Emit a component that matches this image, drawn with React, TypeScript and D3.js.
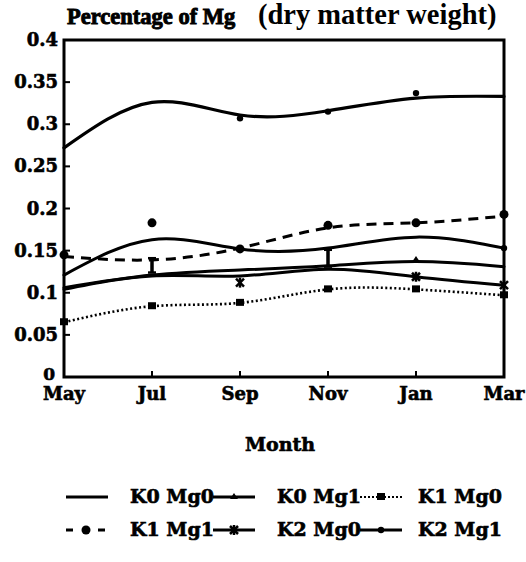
import * as d3 from 'd3'

const months = ['May', 'Jul', 'Sep', 'Nov', 'Jan', 'Mar']
const yTickValues = [0, 0.05, 0.1, 0.15, 0.2, 0.25, 0.3, 0.35, 0.4]
const yTickLabels = ['0', '0.05', '0.1', '0.15', '0.2', '0.25', '0.3', '0.35', '0.4']

// fitted curves (smooth lines)
const k0mg0Fit = [0.121, 0.163, 0.152, 0.153, 0.166, 0.153]
const k0mg1Fit = [0.106, 0.121, 0.127, 0.132, 0.137, 0.131]
const k1mg0Fit = [0.065, 0.084, 0.088, 0.104, 0.104, 0.097]
const k1mg1Fit = [0.143, 0.139, 0.153, 0.177, 0.183, 0.191]
const k2mg0Fit = [0.104, 0.12, 0.12, 0.128, 0.119, 0.109]
const k2mg1Fit = [0.272, 0.326, 0.311, 0.316, 0.331, 0.333]

// observed points (markers), null where nothing is drawn
const k0mg1Obs = [null, null, null, null, 0.139, null]
const k1mg0Obs = [0.065, 0.084, 0.088, 0.104, 0.104, 0.097]
const k1mg1Obs = [0.145, 0.183, 0.152, 0.18, 0.183, 0.193]
const k2mg0Obs = [null, null, 0.112, null, 0.119, 0.109]
const k2mg1Obs = [null, null, 0.307, 0.315, 0.337, null]
const k0mg0Obs = [null, null, null, null, null, 0.153]

// stacked points drawn as small bars
const rangeLow = [null, 0.124, null, 0.131, null, null]
const rangeHigh = [null, 0.141, null, 0.151, null, null]

const W = 526
const H = 562
const LEFT = 64
const RIGHT = 504
const TOP = 40
const BOTTOM = 377
const FONT = "'DejaVu Serif', serif"
const TITLE_FONT = "'Liberation Serif', serif"

const x = d3.scalePoint<string>().domain(months).range([LEFT, RIGHT])
const y = d3.scaleLinear().domain([0, 0.4]).range([BOTTOM, TOP])

const line = d3
  .line<number>()
  .x((_, i) => x(months[i]) ?? 0)
  .y((d) => y(d))
  .curve(d3.curveNatural)

type Marker = 'dot' | 'bigdot' | 'square' | 'cross' | 'tri'

function MarkerShape({ cx, cy, kind }: { cx: number; cy: number; kind: Marker }) {
  if (kind === 'dot') return <circle cx={cx} cy={cy} r={3.2} fill="#000" />
  if (kind === 'bigdot') return <circle cx={cx} cy={cy} r={4.5} fill="#000" />
  if (kind === 'square') return <rect x={cx - 4} y={cy - 4} width={8} height={7} fill="#000" />
  if (kind === 'tri') return <path d={`M${cx - 4},${cy + 2}L${cx},${cy - 4}L${cx + 4},${cy + 2}Z`} fill="#000" />
  return (
    <g stroke="#000" strokeWidth={2.5}>
      <line x1={cx - 4} y1={cy - 4} x2={cx + 4} y2={cy + 4} />
      <line x1={cx - 4} y1={cy + 4} x2={cx + 4} y2={cy - 4} />
      <line x1={cx} y1={cy - 5} x2={cx} y2={cy + 5} />
    </g>
  )
}

const series = [
  { fit: k2mg1Fit, obs: k2mg1Obs, dash: undefined, width: 3.2, marker: 'dot' as Marker },
  { fit: k0mg0Fit, obs: k0mg0Obs, dash: undefined, width: 3, marker: 'dot' as Marker },
  { fit: k0mg1Fit, obs: k0mg1Obs, dash: undefined, width: 3, marker: 'tri' as Marker },
  { fit: k2mg0Fit, obs: k2mg0Obs, dash: undefined, width: 3, marker: 'cross' as Marker },
  { fit: k1mg0Fit, obs: k1mg0Obs, dash: '2 2.5', width: 2.6, marker: 'square' as Marker },
  { fit: k1mg1Fit, obs: k1mg1Obs, dash: '10 7', width: 3, marker: 'bigdot' as Marker },
]

const legendItems = [
  { label: 'K0 Mg0', dash: undefined, marker: null },
  { label: 'K0 Mg1', dash: undefined, marker: 'tri' },
  { label: 'K1 Mg0', dash: '2 2', marker: 'square' },
  { label: 'K1 Mg1', dash: '7 9', marker: 'bigdot' },
  { label: 'K2 Mg0', dash: undefined, marker: 'cross' },
  { label: 'K2 Mg1', dash: undefined, marker: 'dot' },
]

// heavier text, like the scanned original
const textStyle = { fontFamily: FONT, fontWeight: 700, stroke: '#000', strokeWidth: 0.6 }

export default function App() {
  return (
    <svg
      width={W}
      height={H}
      viewBox={`0 0 ${W} ${H}`}
      style={{ position: 'absolute', left: 0, top: 0, background: '#fff' }}
    >
      <rect width={W} height={H} fill="#fff" />

      {/* Title */}
      <text x={67} y={24} fontFamily={TITLE_FONT} fontWeight={700} fontSize={22.5} stroke="#000" strokeWidth={0.9}>
        Percentage of Mg
      </text>
      <text x={258} y={24} fontFamily={TITLE_FONT} fontWeight={700} fontSize={28.5}>
        (dry matter weight)
      </text>

      {/* Lines */}
      {series.map((s, i) => (
        <path
          key={i}
          d={line(s.fit) ?? ''}
          fill="none"
          stroke="#000"
          strokeWidth={s.width}
          strokeDasharray={s.dash}
          strokeLinecap={s.dash ? 'butt' : 'round'}
        />
      ))}

      {/* Markers */}
      {series.map((s, i) =>
        s.obs.map((v, j) =>
          v == null ? null : (
            <MarkerShape key={`${i}-${j}`} cx={x(months[j]) ?? 0} cy={y(v)} kind={s.marker} />
          )
        )
      )}

      {/* Stacked point bars */}
      {rangeLow.map((lo, j) => {
        const hi = rangeHigh[j]
        if (lo == null || hi == null) return null
        const cx = x(months[j]) ?? 0
        return (
          <g key={`r${j}`} stroke="#000" strokeWidth={2.5}>
            <line x1={cx} y1={y(lo)} x2={cx} y2={y(hi)} strokeWidth={3.5} />
            <line x1={cx - 4} y1={y(lo)} x2={cx + 4} y2={y(lo)} />
            <line x1={cx - 4} y1={y(hi)} x2={cx + 4} y2={y(hi)} />
          </g>
        )
      })}

      {/* Frame */}
      <rect x={LEFT} y={TOP} width={RIGHT - LEFT} height={BOTTOM - TOP} fill="none" stroke="#000" strokeWidth={3} />

      {/* Y ticks */}
      {yTickValues.map((v, i) => (
        <g key={`y${i}`}>
          <line x1={LEFT} x2={LEFT + 6} y1={y(v)} y2={y(v)} stroke="#000" strokeWidth={2} />
          <text
            x={v === 0 ? 55 : 58}
            y={v === 0 ? y(v) + 3 : y(v) + 6}
            textAnchor="end"
            {...textStyle}
            fontSize={v === 0 ? 17 : 18}
          >
            {yTickLabels[i]}
          </text>
        </g>
      ))}

      {/* X ticks */}
      {months.map((m) => (
        <g key={m}>
          <line x1={x(m)} x2={x(m)} y1={BOTTOM} y2={BOTTOM - 6} stroke="#000" strokeWidth={2} />
          <text x={x(m)} y={400} textAnchor="middle" {...textStyle} fontSize={18}>
            {m}
          </text>
        </g>
      ))}

      <text x={280} y={451} textAnchor="middle" {...textStyle} fontSize={19}>
        Month
      </text>

      {/* Legend */}
      {legendItems.map((item, i) => {
        const col = i % 3
        const row = Math.floor(i / 3)
        const sx = [66, 213, 360][col]
        const tx = [130, 277, 418][col]
        const ly = row === 0 ? 497 : 530
        const sw = item.dash === '7 9' ? 40 : 42
        return (
          <g key={item.label}>
            <line
              x1={sx}
              x2={sx + sw}
              y1={ly}
              y2={ly}
              stroke="#000"
              strokeWidth={item.dash === '2 2' ? 2 : 3}
              strokeDasharray={item.dash}
            />
            {item.marker ? <MarkerShape cx={sx + sw / 2} cy={ly} kind={item.marker as Marker} /> : null}
            <text x={tx} y={ly + 6} {...textStyle} fontSize={19}>
              {item.label}
            </text>
          </g>
        )
      })}
    </svg>
  )
}
